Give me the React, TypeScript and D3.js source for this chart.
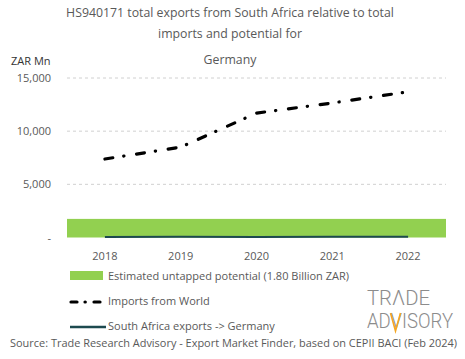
import React from "react";
import * as d3 from "d3";

const years = ["2018", "2019", "2020", "2021", "2022"];
const importsFromWorld = [7380, 8500, 11700, 12650, 13700];
const saExports = [40, 60, 50, 70, 60];
const untappedPotential = 1750;
const yTicks = [0, 5000, 10000, 15000];
const titleLines = [
  "HS940171 total exports from South Africa relative to total",
  "imports and potential for",
  "Germany",
];
const legendLabels = [
  "Estimated untapped potential (1.80 Billion ZAR)",
  "Imports from World",
  "South Africa exports -> Germany",
];
const sourceText =
  "Source: Trade Research Advisory - Export Market Finder, based on CEPII BACI (Feb 2024)";

const W = 465;
const H = 359;
const FONT = "'Open Sans', 'Noto Sans', sans-serif";
const GRAY = "#595959";
const titleY = [17, 37.5, 64];

export default function App() {
  const left = 67;
  const right = 446;
  const x = d3.scalePoint<string>().domain(years).range([left, right]).padding(0.5);
  const y = d3.scaleLinear().domain([0, 15000]).range([237.5, 78]);
  const fmt = (v: number) => (v === 0 ? "-" : d3.format(",")(v));
  const line = d3
    .line<number>()
    .x((_, i) => x(years[i]) as number)
    .y((d) => y(d));

  return (
    <svg
      width={W}
      height={H}
      style={{ position: "absolute", left: 0, top: 0, background: "#fff" }}
      fontFamily={FONT}
    >
      {titleLines.map((t, i) => (
        <text
          key={i}
          x={230}
          y={titleY[i]}
          textAnchor="middle"
          fontSize={12.3}
          fill={GRAY}
        >
          {t}
        </text>
      ))}
      <text x={11} y={65} fontSize={11} fill="#333">
        ZAR Mn
      </text>
      {yTicks.map((t) => (
        <g key={t}>
          {t > 0 && (
            <line
              x1={left}
              x2={right}
              y1={y(t)}
              y2={y(t)}
              stroke="#d0d0d0"
              strokeWidth={1}
              strokeDasharray="3,3"
            />
          )}
          <text x={51} y={y(t) + 4} textAnchor="end" fontSize={11} fill={GRAY}>
            {fmt(t)}
          </text>
        </g>
      ))}
      <rect
        x={left}
        width={right - left}
        y={y(untappedPotential)}
        height={y(0) - y(untappedPotential)}
        fill="#92d050"
      />
      <path d={line(saExports) || ""} fill="none" stroke="#1d4a4f" strokeWidth={2} />
      <path
        d={line(importsFromWorld) || ""}
        fill="none"
        stroke="#000"
        strokeWidth={3.2}
        strokeLinecap="round"
        strokeDasharray="8 11 0.3 12.7"
      />
      {years.map((yr) => (
        <text
          key={yr}
          x={x(yr)}
          y={260}
          textAnchor="middle"
          fontSize={11}
          fill={GRAY}
        >
          {yr}
        </text>
      ))}
      {/* legend */}
      <rect x={70} y={271} width={33} height={9} fill="#92d050" />
      <text x={108} y={280} fontSize={11} fill={GRAY}>
        {legendLabels[0]}
      </text>
      <path
        d="M71,302 L103,302"
        stroke="#000"
        strokeWidth={3.2}
        strokeLinecap="round"
        strokeDasharray="6 8 0.3 8.7"
      />
      <text x={108} y={305} fontSize={11} fill={GRAY}>
        {legendLabels[1]}
      </text>
      <line x1={70} x2={106} y1={327} y2={327} stroke="#1d4a4f" strokeWidth={2.5} />
      <text x={108} y={330} fontSize={11} fill={GRAY}>
        {legendLabels[2]}
      </text>
      {/* logo */}
      <g fontFamily="'Roboto', sans-serif" fontWeight={300} fill="#8c8c8c">
        <text x={367} y={305} fontSize={19.5} textLength={63} lengthAdjust="spacingAndGlyphs">
          TRΛDE
        </text>
        <text x={367} y={328} fontSize={19.5} textLength={86} lengthAdjust="spacingAndGlyphs">
          ADVISORY
        </text>
        <path d="M390.5,313 L395.5,331 L400.5,313" fill="none" stroke="#f5a623" strokeWidth={1.6} />
      </g>
      <text x={10} y={347} fontSize={10.5} fill={GRAY} textLength={447} lengthAdjust="spacingAndGlyphs">
        {sourceText}
      </text>
    </svg>
  );
}
